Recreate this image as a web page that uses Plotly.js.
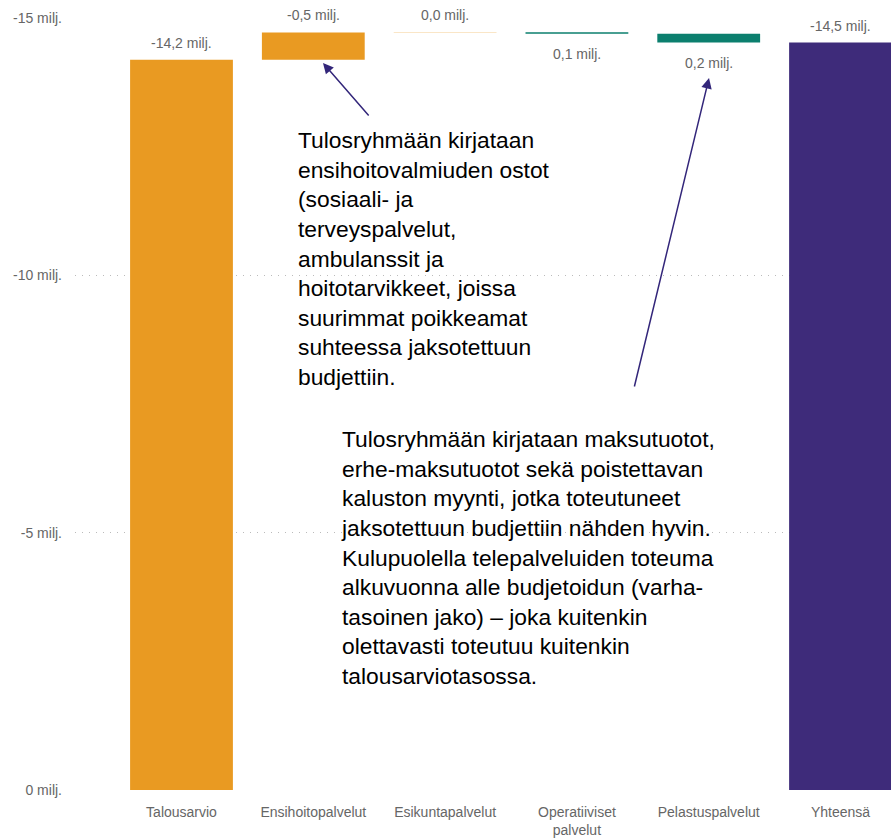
<!DOCTYPE html>
<html>
<head>
<meta charset="utf-8">
<script src="https://cdn.plot.ly/plotly-3.0.1.min.js"></script>
<style>html,body{margin:0;padding:0;background:#fff;}#chart{width:891px;height:838px;}</style>
</head>
<body>
<div id="chart"></div>
<script>
// Data (milj. €)
const categories = ['Talousarvio', 'Ensihoitopalvelut', 'Esikuntapalvelut', 'Operatiiviset<br>palvelut', 'Pelastuspalvelut', 'Yhteensä'];
const values = [-14.19, -0.53, -0.004, 0.03, 0.17, null];
const measures = ['relative', 'relative', 'relative', 'relative', 'relative', 'total'];
const valueLabels = ['-14,2 milj.', '-0,5 milj.', '0,0 milj.', '0,1 milj.', '0,2 milj.', '-14,5 milj.'];
const yTickVals = [-15, -10, -5, 0];
const yTickText = ['-15 milj.', '-10 milj.', '-5 milj.', '0 milj.'];

const note1 = 'Tulosryhmään kirjataan<br>ensihoitovalmiuden ostot<br>(sosiaali- ja<br>terveyspalvelut,<br>ambulanssit ja<br>hoitotarvikkeet, joissa<br>suurimmat poikkeamat<br>suhteessa jaksotettuun<br>budjettiin.';
const note2 = 'Tulosryhmään kirjataan maksutuotot,<br>erhe-maksutuotot sekä poistettavan<br>kaluston myynti, jotka toteutuneet<br>jaksotettuun budjettiin nähden hyvin.<br>Kulupuolella telepalveluiden toteuma<br>alkuvuonna alle budjetoidun (varha-<br>tasoinen jako) – joka kuitenkin<br>olettavasti toteutuu kuitenkin<br>talousarviotasossa.';

const ORANGE = '#E99A22', TEAL = '#0B7F6E', PURPLE = '#3E2B7A', GRAY = '#666666';
const FONT = 'Liberation Sans, Arial, sans-serif';

// cumulative end positions for labels
let cum = 0; const ends = [];
values.forEach((v, i) => { if (measures[i] === 'total') { ends.push(cum); } else { cum += v; ends.push(cum); } });

const trace = {
  type: 'waterfall',
  x: categories,
  y: values.map(v => v === null ? 0 : v),
  measure: measures,
  width: 0.78,
  connector: {visible: false},
  decreasing: {marker: {color: ORANGE, line: {width: 0}}},
  increasing: {marker: {color: TEAL, line: {width: 0}}},
  totals: {marker: {color: PURPLE, line: {width: 0}}},
  textinfo: 'none',
  hoverinfo: 'skip'
};

const annotations = [];
categories.forEach((c, i) => {
  const up = measures[i] === 'total' || values[i] < 0;
  annotations.push({
    x: c, y: ends[i], xref: 'x', yref: 'y',
    text: valueLabels[i], showarrow: false,
    yshift: up ? 17 : -20,
    font: {family: FONT, size: 14, color: GRAY}
  });
});

annotations.push({
  xref: 'paper', yref: 'paper', x: 0.2713, y: 0.862, xanchor: 'left', yanchor: 'top',
  align: 'left', showarrow: false, text: note1,
  font: {family: FONT, size: 22.8, color: '#000'}
});
annotations.push({
  xref: 'paper', yref: 'paper', x: 0.3235, y: 0.474, xanchor: 'left', yanchor: 'top',
  align: 'left', showarrow: false, text: note2,
  font: {family: FONT, size: 22.8, color: '#000'}
});
// arrows
annotations.push({
  xref: 'paper', yref: 'paper', x: 0.3039, y: 0.9417, ax: 47, ay: 54,
  text: '', showarrow: true, arrowhead: 2, arrowsize: 1.4, arrowwidth: 1.5,
  arrowcolor: '#33267a', standoff: 0
});
annotations.push({
  xref: 'paper', yref: 'paper', x: 0.777, y: 0.9223, ax: -75, ay: 310,
  text: '', showarrow: true, arrowhead: 2, arrowsize: 1.4, arrowwidth: 1.5,
  arrowcolor: '#33267a', standoff: 0
});

const layout = {
  width: 891, height: 838,
  margin: {l: 75, r: 0, t: 18, b: 48},
  paper_bgcolor: '#fff', plot_bgcolor: '#fff',
  showlegend: false,
  font: {family: FONT, color: GRAY, size: 14},
  xaxis: {
    type: 'category', range: [-0.808, 5.383], showgrid: false, zeroline: false, showline: false,
    ticks: '', ticklabelstandoff: 12,
    tickfont: {family: FONT, size: 14, color: GRAY}
  },
  yaxis: {
    range: [0, -15], tickvals: yTickVals, ticktext: yTickText,
    showgrid: true, gridcolor: '#bbbbbb', griddash: '1px,6px', gridwidth: 1,
    zeroline: false, showline: false, ticks: '', ticklabelstandoff: 12,
    tickfont: {family: FONT, size: 14, color: GRAY}
  },
  annotations: annotations
};

Plotly.newPlot('chart', [trace], layout, {displayModeBar: false, staticPlot: true});
</script>
</body>
</html>
